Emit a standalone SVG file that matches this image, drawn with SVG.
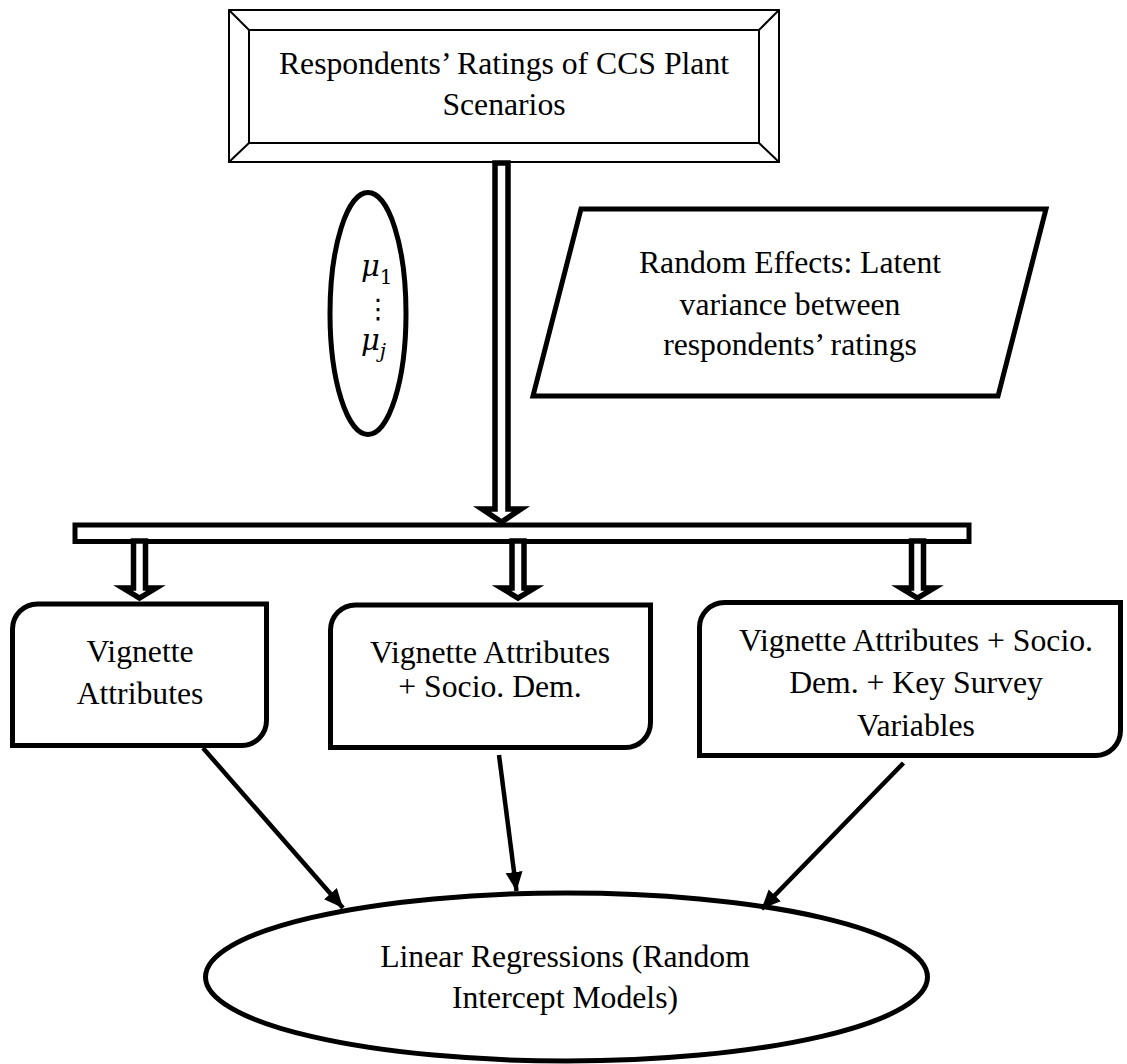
<svg xmlns="http://www.w3.org/2000/svg" width="1127" height="1064" viewBox="0 0 1127 1064">
<style>
.t{font-family:"Liberation Serif","Times New Roman",serif;font-size:31.7px;fill:#000;text-anchor:middle}
.m{font-family:"DejaVu Serif",serif;font-style:italic;font-size:29px;fill:#000}
.box{fill:#fff;stroke:#000;stroke-width:5}
.thin{fill:#fff;stroke:#000;stroke-width:2}
.dbl{fill:#fff;stroke:#000;stroke-width:5.5;stroke-linejoin:miter}
.conn{stroke:#000;stroke-width:4.5;fill:none}
</style>
<defs>
<marker id="ah" markerUnits="userSpaceOnUse" markerWidth="21" markerHeight="18" refX="19" refY="8.5" orient="auto">
<path d="M0,0 L19,8.5 L0,17 z" fill="#000"/>
</marker>
</defs>
<rect width="1127" height="1064" fill="#fff"/>

<g id="ratings">
<rect class="thin" x="229" y="10" width="550" height="152"/>
<rect class="thin" x="249" y="30" width="510" height="113"/>
<path class="thin" d="M229,10 L249,30 M779,10 L759,30 M229,162 L249,143 M779,162 L759,143" fill="none"/>
<text class="t" x="504" y="74">Respondents’ Ratings of CCS Plant</text>
<text class="t" x="504" y="115">Scenarios</text>
</g>

<g id="mu">
<ellipse class="box" cx="368" cy="313.5" rx="38" ry="121" stroke-width="4.8"/>
<text class="m" x="361" y="276">μ<tspan font-style="normal" font-size="20" dy="8">1</tspan></text>
<text x="378" y="318" font-family="DejaVu Sans,sans-serif" font-size="27" text-anchor="middle">⋮</text>
<text class="m" x="361" y="350">μ<tspan font-size="20" dy="8">j</tspan></text>
</g>

<g id="random-effects">
<polygon class="box" points="581,209 1046,209 998,396 533,396"/>
<text class="t" x="790" y="273">Random Effects: Latent</text>
<text class="t" x="790" y="315">variance between</text>
<text class="t" x="790" y="355">respondents’ ratings</text>
</g>

<g id="bar">
<rect class="box" x="75" y="525" width="894" height="16.5"/>
</g>

<g id="vignette">
<path class="box" d="M37.5,604 H266.5 V720.5 A25,25 0 0 1 241.5,745.5 H12.5 V629 A25,25 0 0 1 37.5,604 Z"/>
<text class="t" x="140" y="662">Vignette</text>
<text class="t" x="140" y="704">Attributes</text>
</g>

<g id="vignette-socio">
<path class="box" d="M355.5,605 H650.5 V722.5 A25,25 0 0 1 625.5,747.5 H330.5 V630 A25,25 0 0 1 355.5,605 Z"/>
<text class="t" x="490" y="663">Vignette Attributes</text>
<text class="t" x="490" y="697">+ Socio. Dem.</text>
</g>

<g id="vignette-socio-key">
<path class="box" d="M724.5,602.5 H1120.5 V730.5 A25,25 0 0 1 1095.5,755.5 H699.5 V627.5 A25,25 0 0 1 724.5,602.5 Z"/>
<text class="t" x="916" y="651">Vignette Attributes + Socio.</text>
<text class="t" x="916" y="693">Dem. + Key Survey</text>
<text class="t" x="916" y="736">Variables</text>
</g>

<g id="linear-regressions">
<ellipse class="box" cx="566.5" cy="977" rx="361" ry="84"/>
<text class="t" x="565" y="967">Linear Regressions (Random</text>
<text class="t" x="565" y="1008">Intercept Models)</text>
</g>

<g id="connectors">
<polygon class="dbl" points="495,163 495,509 482,509 501.5,522 521,509 508,509 508,163"/>
<polygon class="dbl" points="133.5,541 133.5,588 123,588 139.5,598 156,588 145.5,588 145.5,541"/>
<polygon class="dbl" points="512,541 512,588 501.5,588 518,598 534.5,588 524,588 524,541"/>
<polygon class="dbl" points="911.5,541 911.5,588 901,588 917.5,598 934,588 923.5,588 923.5,541"/>
<line class="conn" x1="203" y1="748" x2="343" y2="908" marker-end="url(#ah)"/>
<line class="conn" x1="499" y1="755" x2="516.5" y2="891" marker-end="url(#ah)"/>
<line class="conn" x1="903.5" y1="763" x2="761.5" y2="909" marker-end="url(#ah)"/>
</g>
</svg>
